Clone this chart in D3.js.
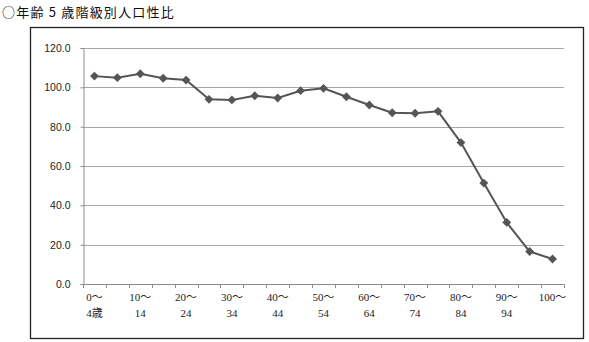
<!DOCTYPE html>
<html>
<head>
<meta charset="utf-8">
<script src="https://cdn.jsdelivr.net/npm/d3@7"></script>
<style>
  body { margin: 0; background: #fff; }
  svg { display: block; }
</style>
</head>
<body>
<div id="chart"></div>
<script>
// 年齢5歳階級別人口性比
const titleText = "○年齢 5 歳階級別人口性比";
const ageGroups = ["0~4", "5~9", "10~14", "15~19", "20~24", "25~29", "30~34", "35~39", "40~44",
  "45~49", "50~54", "55~59", "60~64", "65~69", "70~74", "75~79", "80~84", "85~89", "90~94", "95~99", "100~"];
const sexRatio = [105.7, 104.9, 106.9, 104.6, 103.7, 93.9, 93.6, 95.7, 94.6, 98.3, 99.5,
  95.2, 91.0, 87.1, 86.8, 87.8, 71.9, 51.3, 31.3, 16.5, 12.7];
// two-line labels shown on every other group
const labelTop = ["0～", "10～", "20～", "30～", "40～", "50～", "60～", "70～", "80～", "90～", "100～"];
const labelBottom = ["4歳", "14", "24", "34", "44", "54", "64", "74", "84", "94", ""];
const yTicks = [0, 20, 40, 60, 80, 100, 120];

const width = 589;
const height = 342;
const plot = { left: 83, right: 564, top: 48, bottom: 284 };

const svg = d3.select("#chart")
    .append("svg")
    .attr("width", width)
    .attr("height", height);

svg.append("text")
    .attr("x", 2)
    .attr("y", 17)
    .attr("font-family", "'Noto Sans CJK JP', sans-serif")
    .attr("font-size", 13)
    .attr("letter-spacing", 1.2)
    .attr("fill", "#111")
    .text(titleText);

// outer frame
svg.append("rect")
    .attr("x", 30.5)
    .attr("y", 27.5)
    .attr("width", 553)
    .attr("height", 311)
    .attr("fill", "none")
    .attr("stroke", "#222")
    .attr("stroke-width", 1.3);

const x = d3.scaleBand()
    .domain(ageGroups)
    .range([plot.left, plot.right]);

const y = d3.scaleLinear()
    .domain([0, 120])
    .range([plot.bottom, plot.top]);

// gridlines
svg.append("g")
    .selectAll("line")
    .data(yTicks.filter(d => d > 0))
    .enter().append("line")
    .attr("x1", plot.left)
    .attr("x2", plot.right)
    .attr("y1", d => Math.round(y(d)) + 0.5)
    .attr("y2", d => Math.round(y(d)) + 0.5)
    .attr("stroke", "#a6a6a6")
    .attr("stroke-width", 1);

// y axis
const yAxis = d3.axisLeft(y)
    .tickValues(yTicks)
    .tickFormat(d3.format(".1f"))
    .tickSize(3)
    .tickPadding(10);

const gy = svg.append("g")
    .attr("transform", "translate(" + (plot.left + 0.5) + ",0)")
    .call(yAxis);
gy.select(".domain").attr("stroke", "#8c8c8c");
gy.selectAll(".tick line").attr("stroke", "#8c8c8c");
gy.selectAll(".tick text")
    .attr("font-family", "'Liberation Sans', sans-serif")
    .attr("font-size", 10.5)
    .attr("fill", "#222");

// x axis line + ticks at the group boundaries
svg.append("line")
    .attr("x1", plot.left)
    .attr("x2", plot.right + 0.5)
    .attr("y1", Math.round(y(0)) + 0.5)
    .attr("y2", Math.round(y(0)) + 0.5)
    .attr("stroke", "#8c8c8c");

const bounds = ageGroups.map(d => x(d)).concat([x.range()[1]]);
svg.append("g")
    .selectAll("line")
    .data(bounds)
    .enter().append("line")
    .attr("x1", d => Math.round(d) + 0.5)
    .attr("x2", d => Math.round(d) + 0.5)
    .attr("y1", Math.round(y(0)) + 0.5)
    .attr("y2", Math.round(y(0)) + 4)
    .attr("stroke", "#8c8c8c");

// x labels
const labelGroups = ageGroups.filter((d, i) => i % 2 === 0);
const xl = svg.append("g")
    .selectAll("text")
    .data(labelGroups)
    .enter().append("text")
    .attr("x", d => x(d) + x.bandwidth() / 2)
    .attr("text-anchor", "middle")
    .attr("font-family", "'Liberation Serif', 'Noto Sans CJK JP', serif")
    .attr("font-size", 11)
    .attr("fill", "#222");
xl.append("tspan")
    .attr("x", d => x(d) + x.bandwidth() / 2)
    .attr("y", 301)
    .text((d, i) => labelTop[i]);
xl.append("tspan")
    .attr("x", d => x(d) + x.bandwidth() / 2)
    .attr("y", 317)
    .text((d, i) => labelBottom[i]);

// line
const line = d3.line()
    .x((d, i) => x(ageGroups[i]) + x.bandwidth() / 2)
    .y(d => y(d));

svg.append("path")
    .datum(sexRatio)
    .attr("d", line)
    .attr("fill", "none")
    .attr("stroke", "#555")
    .attr("stroke-width", 2);

svg.append("g")
    .selectAll("path")
    .data(sexRatio)
    .enter().append("path")
    .attr("d", d3.symbol(d3.symbolDiamond2, 50))
    .attr("transform", (d, i) => "translate(" + (x(ageGroups[i]) + x.bandwidth() / 2) + "," + y(d) + ")")
    .attr("fill", "#555");
</script>
</body>
</html>
